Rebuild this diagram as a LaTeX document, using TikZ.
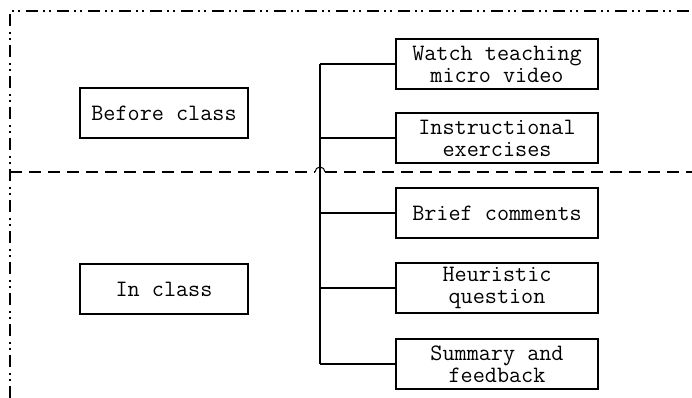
\documentclass[tikz,border=0pt]{standalone}
\begin{document}
\begin{tikzpicture}[x=1pt,y=-1pt,
  box/.style={draw,line width=1.3pt,minimum width=202pt,minimum height=50pt,align=center,inner sep=0pt,
    font=\ttfamily\fontsize{23.5}{22}\selectfont},
  lbox/.style={box,minimum width=168pt},
  conn/.style={line width=1.3pt},
  frame/.style={line width=1.2pt,dash pattern=on 12pt off 5pt on 2pt off 4pt on 2pt off 6pt},
  sep/.style={line width=1.2pt,dash pattern=on 12pt off 7pt}]
\useasboundingbox (0,0) rectangle (692,398);
\draw[frame] (10,398) -- (10,11) -- (692,11);
\node[lbox] (before) at (164,113) {Before class};
\node[lbox] (inclass) at (164,289) {In class};
\node[box] (watch) at (497,64) {Watch teaching\\micro video};
\node[box] (instr) at (497,138) {Instructional\\exercises};
\node[box] (brief) at (497,213) {Brief comments};
\node[box] (heur) at (497,288) {Heuristic\\question};
\node[box] (summ) at (497,364) {Summary and\\feedback};
\coordinate (trunk) at (320,0);
\coordinate (hopl) at (315,172);
\coordinate (hopr) at (325,172);
\draw[sep] (10,172) -- (hopl);
\draw[conn,line width=1pt] (hopl) arc[start angle=180,end angle=0,radius=5pt];
\draw[sep] (hopr) -- (692,172);
\draw[conn] (watch.west -| trunk) -- (summ.west -| trunk);
\foreach \n in {watch,instr,brief,heur,summ}
  \draw[conn] (\n.west) -- (\n.west -| trunk);
\end{tikzpicture}
\end{document}
